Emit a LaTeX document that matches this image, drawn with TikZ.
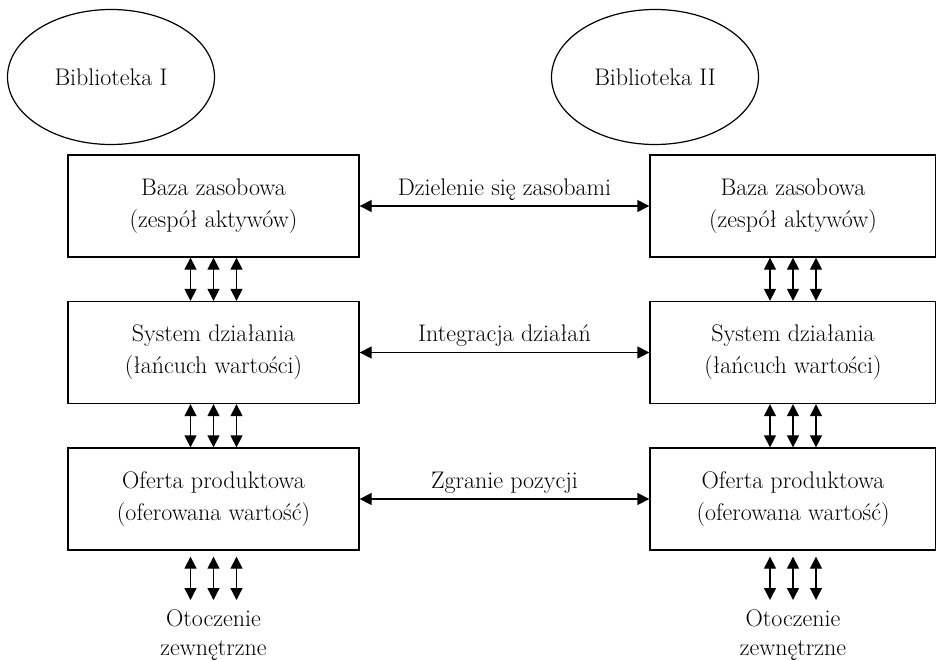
\documentclass[tikz,border=0pt]{standalone}
\usetikzlibrary{arrows.meta,shapes.geometric}
\begin{document}
\begin{tikzpicture}[x=1pt,y=-1pt,
  every node/.style={font=\fontsize{24}{32}\selectfont},
  lib/.style={draw,ellipse,line width=1.2pt,minimum width=207pt,minimum height=135pt,inner sep=0pt},
  boxL/.style={draw,rectangle,line width=1.3pt,minimum width=291pt,minimum height=102pt,align=center,inner sep=0pt},
  boxR/.style={boxL,minimum width=286pt},
  outer/.style={align=center,inner sep=0pt,anchor=north,font=\fontsize{24}{29}\selectfont},
  dbl/.style={line width=1.3pt,{Triangle[length=12pt,width=12pt]}-{Triangle[length=12pt,width=12pt]}},
  lab/.style={midway,above,inner sep=5pt}
]
\useasboundingbox (0,0) rectangle (936,659);
\node[lib] (l1) at (111,77) {Biblioteka I};
\node[lib] (l2) at (655,77) {Biblioteka II};
\node[boxL] (b1) at (213.5,206) {Baza zasobowa\\(zespół aktywów)};
\node[boxL] (m1) at (213.5,352.5) {System działania\\(łańcuch wartości)};
\node[boxL] (o1) at (213.5,499) {Oferta produktowa\\(oferowana wartość)};
\node[boxR] (b2) at (793,206) {Baza zasobowa\\(zespół aktywów)};
\node[boxR] (m2) at (793,352.5) {System działania\\(łańcuch wartości)};
\node[boxR] (o2) at (793,499) {Oferta produktowa\\(oferowana wartość)};
\node[outer] (e1) at (213.5,610) {Otoczenie\\zewnętrzne};
\node[outer] (e2) at (793,610) {Otoczenie\\zewnętrzne};
\draw[dbl] (b1.east) -- node[lab] {Dzielenie się zasobami} (b2.west);
\draw[dbl] (m1.east) -- node[lab] {Integracja działań} (m2.west);
\draw[dbl] (o1.east) -- node[lab] {Zgranie pozycji} (o2.west);
\foreach \s in {-23,0,23}{
  \draw[dbl] ([xshift=\s pt]b1.south) -- ([xshift=\s pt]m1.north);
  \draw[dbl] ([xshift=\s pt]m1.south) -- ([xshift=\s pt]o1.north);
  \draw[dbl] ([xshift=\s pt,yshift=-6pt]o1.south) -- ([xshift=\s pt,yshift=10pt]e1.north);
  \draw[dbl] ([xshift=\s pt]b2.south) -- ([xshift=\s pt]m2.north);
  \draw[dbl] ([xshift=\s pt]m2.south) -- ([xshift=\s pt]o2.north);
  \draw[dbl] ([xshift=\s pt,yshift=-6pt]o2.south) -- ([xshift=\s pt,yshift=10pt]e2.north);
}
\end{tikzpicture}
\end{document}
